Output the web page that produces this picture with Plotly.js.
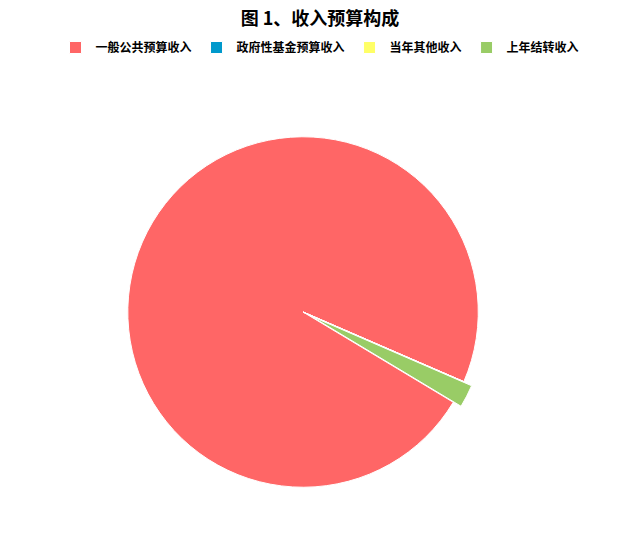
<!DOCTYPE html>
<html>
<head>
<meta charset="utf-8">
<script src="https://cdn.plot.ly/plotly-3.0.1.min.js"></script>
<style>html,body{margin:0;padding:0;background:#fff;}#chart{width:640px;height:559px;}</style>
</head>
<body>
<div id="chart"></div>
<script>
const categories = ['一般公共预算收入', '政府性基金预算收入', '当年其他收入', '上年结转收入'];
const values = [97.9, 0, 0, 2.1];
const colors = ['#ff6666', '#0099cc', '#ffff66', '#99cc66'];
const pulls = [0, 0, 0, 0.05];

const trace = {
  type: 'pie',
  labels: categories,
  values: values,
  sort: false,
  direction: 'clockwise',
  rotation: 121,
  pull: pulls,
  textinfo: 'none',
  hoverinfo: 'label+value+percent',
  marker: {colors: colors, line: {color: '#ffffff', width: 1}},
  domain: {x: [0.186, 0.761], y: [0.1127, 0.771]}
};

const layout = {
  width: 640, height: 559,
  margin: {l: 0, r: 0, t: 0, b: 0},
  paper_bgcolor: '#ffffff',
  font: {family: '"Noto Sans CJK SC", sans-serif', color: '#000'},
  title: {text: '<b>图 1、收入预算构成</b>', x: 0.5, xanchor: 'center', y: 0.967, yanchor: 'middle', yref: 'container',
          font: {size: 18, family: '"Noto Sans CJK SC", sans-serif', color: '#000'}},
  showlegend: true,
  legend: {orientation: 'h', x: 0.5, xanchor: 'center', y: 0.915, yanchor: 'middle',
           font: {size: 12, family: '"Noto Sans CJK SC", sans-serif', color: '#000', weight: 'bold'},
           itemwidth: 30, traceorder: 'normal'}
};

Plotly.newPlot('chart', [trace], layout, {displayModeBar: false, staticPlot: true});
</script>
</body>
</html>
